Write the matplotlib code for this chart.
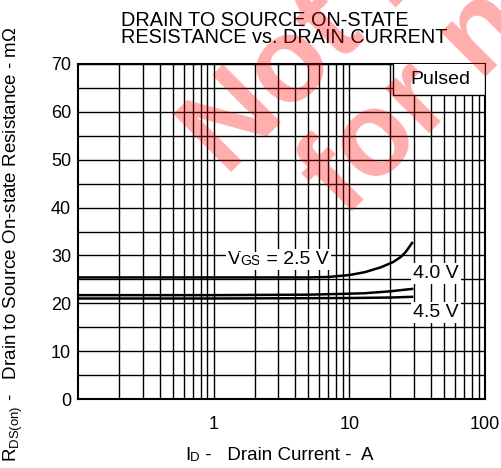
import matplotlib.pyplot as plt
from matplotlib.ticker import LogLocator, NullFormatter

plt.rcParams['font.family'] = ['Liberation Sans', 'DejaVu Sans']
plt.rcParams['mathtext.fontset'] = 'custom'
plt.rcParams['mathtext.rm'] = 'Liberation Sans'

# datos
id_25 = [0.1, 1, 3, 5, 7, 10, 13, 17, 21, 24, 26, 29]
rds_25 = [25.4, 25.4, 25.4, 25.4, 25.5, 25.9, 26.5, 27.5, 28.6, 29.7, 30.7, 32.6]
id_40 = [0.1, 1, 5, 10, 13, 20, 29]
rds_40 = [21.7, 21.7, 21.8, 22.0, 22.1, 22.5, 23.0]
id_45 = [0.1, 1, 10, 20, 29]
rds_45 = [21.0, 21.0, 21.1, 21.2, 21.35]
y_ticks = [0, 10, 20, 30, 40, 50, 60, 70]
x_ticks = [1, 10, 100]
x_labels = ['1', '10', '100']

fig = plt.figure(figsize=(5.02, 4.68), dpi=100)
ax = fig.add_axes([78/502, 69/468, 407/502, 335/468])

ax.set_xscale('log')
ax.set_xlim(0.1, 100)
ax.set_ylim(0, 70)

# rejilla
ax.set_yticks(y_ticks)
ax.set_yticks(range(5, 70, 10), minor=True)
ax.set_xticks(x_ticks)
ax.set_xticklabels(x_labels)
ax.xaxis.set_minor_locator(LogLocator(base=10, subs=range(2, 10)))
ax.xaxis.set_minor_formatter(NullFormatter())
ax.grid(True, which='both', color='black', lw=1)
ax.tick_params(which='both', length=0, labelsize=13)
ax.tick_params(axis='x', pad=12)
ax.tick_params(axis='y', pad=5)
for s in ax.spines.values():
    s.set_linewidth(1.5)

ax.plot(id_25, rds_25, color='black', lw=1.8, zorder=3)
ax.plot(id_40, rds_40, color='black', lw=1.8, zorder=3)
ax.plot(id_45, rds_45, color='black', lw=1.8, zorder=3)

# etiquetas de las curvas
caja = dict(facecolor='white', edgecolor='none', pad=1.5)
t1 = ax.text(1.27, 27.3, 'V', fontsize=14, ha='left', va='bottom', bbox=caja, zorder=4)
t2 = ax.annotate('GS', xy=(1, 0), xycoords=t1, fontsize=10, ha='left', va='bottom',
                 bbox=caja, zorder=4)
ax.annotate(' = 2.5 V', xy=(1, 0), xycoords=t2, fontsize=14, ha='left', va='bottom',
            bbox=caja, zorder=4)
ax.text(43.7, 26.2, '4.0 V', fontsize=14, ha='center', va='center', bbox=caja, zorder=4)
ax.text(43.7, 18.0, '4.5 V', fontsize=14, ha='center', va='center', bbox=caja, zorder=4)

# recuadro Pulsed
ax.add_patch(plt.Rectangle(((393-78)/407, (399-95)/335), 1 - (393-78)/407, 1,
                           transform=ax.transAxes, facecolor='white',
                           edgecolor='black', lw=1, zorder=4, clip_on=True))
ax.text((440-78)/407, (399-80)/335, 'Pulsed', transform=ax.transAxes, fontsize=14,
        ha='center', va='center', zorder=5)

# titulo
fig.text(121/502, 1 - 47/468, 'DRAIN TO SOURCE ON-STATE\nRESISTANCE vs. DRAIN CURRENT',
         fontsize=14.3, linespacing=0.9, ha='left', va='bottom', multialignment='left')

# ejes
tx = fig.text(185/502, 1 - 464/468, 'I', fontsize=13.5, ha='left', va='bottom')
td = plt.annotate('D', xy=(1, 0), xycoords=tx, fontsize=9.5, ha='left', va='bottom',
                  annotation_clip=False)
plt.annotate(' -   Drain Current -  A', xy=(1, 0), xycoords=td, fontsize=13.5,
             ha='left', va='bottom', annotation_clip=False)
fig.text(13/502, 1 - 244/468,
         r'R$_{\rm DS(on)}$ -   Drain to Source On-state Resistance - m$\Omega$',
         fontsize=13.5, ha='center', va='center', rotation=90)

# marca de agua
fig.text(226/502, 1 - 177/468, 'Not recommended', fontsize=86, fontweight='bold',
         color='red', alpha=0.32, rotation=45, ha='left', va='baseline',
         rotation_mode='anchor')
fig.text(344/502, 1 - 218/468, 'for new design', fontsize=86, fontweight='bold',
         color='red', alpha=0.32, rotation=45, ha='left', va='baseline',
         rotation_mode='anchor')

fig.savefig('out.png', dpi=100)
